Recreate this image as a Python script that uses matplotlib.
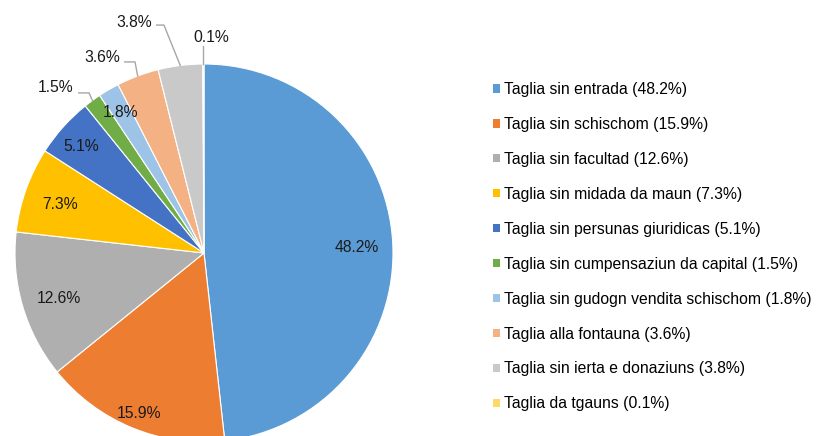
import matplotlib.pyplot as plt
import numpy as np
from matplotlib.patches import Patch

plt.rcParams['font.family'] = ['Liberation Sans', 'DejaVu Sans']

labels = [
    "Taglia sin entrada",
    "Taglia sin schischom",
    "Taglia sin facultad",
    "Taglia sin midada da maun",
    "Taglia sin persunas giuridicas",
    "Taglia sin cumpensaziun da capital",
    "Taglia sin gudogn vendita schischom",
    "Taglia alla fontauna",
    "Taglia sin ierta e donaziuns",
    "Taglia da tgauns",
]
shares = [48.2, 15.9, 12.6, 7.3, 5.1, 1.5, 1.8, 3.6, 3.8, 0.1]
colors = ["#5B9BD5", "#ED7D31", "#AFAFAF", "#FFC000", "#4472C4",
          "#70AD47", "#9DC3E6", "#F4B183", "#C9C9C9", "#FFD966"]

# label placement: inside radius for big slices, (text, elbow) for the small ones
inside_r = {0: 0.81, 1: 0.90, 2: 0.80, 3: 0.81, 4: 0.87, 6: 0.88}
outside = {
    5: ((-0.783, 0.876), (-0.608, 0.847)),
    7: ((-0.54, 1.033), (-0.365, 1.011)),
    8: ((-0.37, 1.222), (-0.212, 1.206)),
    9: ((0.037, 1.14), (0.0, 1.095)),
}

fig = plt.figure(figsize=(8.17, 4.36), dpi=100)
W, H = 817, 436
cx, cy, R = 204, 253, 189
ax = fig.add_axes([(cx - R) / W, (H - cy - R) / H, 2 * R / W, 2 * R / H])

wedges, _ = ax.pie(shares, colors=colors, startangle=90, counterclock=False,
                   wedgeprops=dict(edgecolor="white", linewidth=0.8))
ax.set_xlim(-1, 1)
ax.set_ylim(-1, 1)
ax.axis("off")

fs = 11.3
for i, w in enumerate(wedges):
    ang = np.deg2rad((w.theta1 + w.theta2) / 2)
    txt = f"{shares[i]}%"
    if i in inside_r:
        r = inside_r[i]
        ax.text(r * np.cos(ang), r * np.sin(ang) - 0.016, txt, ha="center",
                va="center", fontsize=fs, color="#1a1a1a")
    else:
        (tx, ty), (ex, ey) = outside[i]
        ax.text(tx, ty, txt, ha="center", va="center", fontsize=fs, color="#1a1a1a")
        px, py = np.cos(ang), np.sin(ang)
        if i == 9:
            ax.plot([px, px], [py, ey], color="#A6A6A6", lw=1, clip_on=False)
        else:
            ax.plot([tx + 0.12, ex, px], [ey, ey, py], color="#A6A6A6", lw=1,
                    clip_on=False)

handles = [Patch(facecolor=c, edgecolor="none") for c in colors]
leg_labels = [f"{l} ({s}%)" for l, s in zip(labels, shares)]
fig.legend(handles, leg_labels, loc="upper left", bbox_to_anchor=(493 / W, 1 - 82 / H),
           frameon=False, fontsize=fs, handlelength=0.45, handleheight=0.45,
           handletextpad=0.25, labelspacing=1.27, borderaxespad=0, borderpad=0)

fig.savefig("out.png", dpi=100)
